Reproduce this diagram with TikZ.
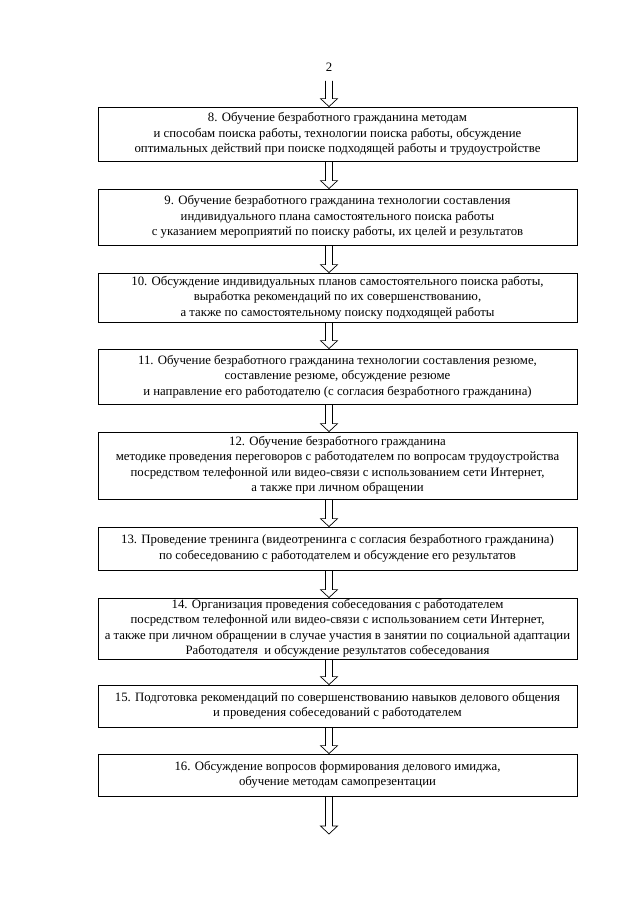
\documentclass[tikz,border=0pt]{standalone}
\usepackage{fontspec}
\setmainfont{Liberation Serif}
\usepackage{tikz}
\usetikzlibrary{calc}
\newcommand{\flowarr}[2]{%
  \draw[arr] let \p1=(#1), \p2=(#2) in
    (\x1-3.5pt,\y1) -- (\x1-3.5pt,\y2+8pt) -- (\x1-8.5pt,\y2+8pt) -- (\x1,\y2)
    -- (\x1+8.5pt,\y2+8pt) -- (\x1+3.5pt,\y2+8pt) -- (\x1+3.5pt,\y1);}

\begin{document}
\begin{tikzpicture}[x=1pt,y=-1pt,
  stage/.style={draw,line width=0.8pt,minimum width=479pt,align=center,inner sep=0pt,
    font=\fontsize{12.8}{15.5}\selectfont},
  arr/.style={line width=0.7pt,line join=miter}
]
\useasboundingbox (0,0) rectangle (640,905);
\coordinate (ax) at (329,0);
\node[font=\fontsize{12.8}{15.5}\selectfont] (pg) at (329,67) {2};
\node[stage,minimum height=54pt] (b8) at (337.5,134) {8. Обучение безработного гражданина методам\\и способам поиска работы, технологии поиска работы, обсуждение\\оптимальных действий при поиске подходящей работы и трудоустройстве};
\node[stage,minimum height=56pt] (b9) at (337.5,217) {9. Обучение безработного гражданина технологии составления\\индивидуального плана самостоятельного поиска работы\\с указанием мероприятий по поиску работы, их целей и результатов};
\node[stage,minimum height=49pt] (b10) at (337.5,297.5) {10. Обсуждение индивидуальных планов самостоятельного поиска работы,\\выработка рекомендаций по их совершенствованию,\\а также по самостоятельному поиску подходящей работы};
\node[stage,minimum height=55pt] (b11) at (337.5,376.5) {11. Обучение безработного гражданина технологии составления резюме,\\составление резюме, обсуждение резюме\\и направление его работодателю (с согласия безработного гражданина)};
\node[stage,minimum height=67pt] (b12) at (337.5,465.5) {12. Обучение безработного гражданина\\методике проведения переговоров с работодателем по вопросам трудоустройства\\посредством телефонной или видео-связи с использованием сети Интернет,\\а также при личном обращении};
\node[stage,minimum height=43pt] (b13) at (337.5,548.5) {13. Проведение тренинга (видеотренинга с согласия безработного гражданина)\\по собеседованию с работодателем и обсуждение его результатов};
\node[stage,minimum height=61pt] (b14) at (337.5,628.5) {14. Организация проведения собеседования с работодателем\\посредством телефонной или видео-связи с использованием сети Интернет,\\а также при личном обращении в случае участия в занятии по социальной адаптации\\Работодателя\ \ и обсуждение результатов собеседования};
\node[stage,minimum height=42pt] (b15) at (337.5,706) {15. Подготовка рекомендаций по совершенствованию навыков делового общения\\и проведения собеседований с работодателем};
\node[stage,minimum height=42pt] (b16) at (337.5,775) {16. Обсуждение вопросов формирования делового имиджа,\\обучение методам самопрезентации};
\coordinate (fin) at (329,834);
\flowarr{$(pg.south)+(0,6)$}{b8.north -| ax}
\flowarr{b8.south -| ax}{b9.north -| ax}
\flowarr{b9.south -| ax}{b10.north -| ax}
\flowarr{b10.south -| ax}{b11.north -| ax}
\flowarr{b11.south -| ax}{b12.north -| ax}
\flowarr{b12.south -| ax}{b13.north -| ax}
\flowarr{b13.south -| ax}{b14.north -| ax}
\flowarr{b14.south -| ax}{b15.north -| ax}
\flowarr{b15.south -| ax}{b16.north -| ax}
\flowarr{b16.south -| ax}{fin}
\end{tikzpicture}
\end{document}
